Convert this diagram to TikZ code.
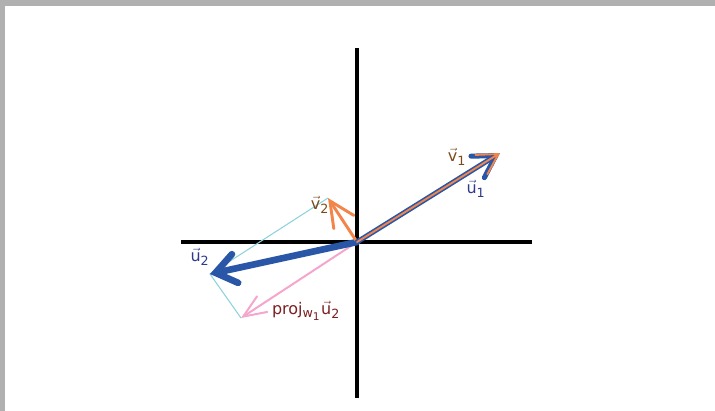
\documentclass[tikz,border=0pt]{standalone}
\usepackage{amsmath}
\usepackage{fontspec}
\setmainfont{DejaVu Sans}
\DeclareMathSizes{12}{12}{9.5}{8}
\usetikzlibrary{arrows.meta}
\definecolor{bordergray}{HTML}{B0B0B0}
\definecolor{ublue}{HTML}{2A56A8}
\definecolor{vorange}{HTML}{F2854A}
\definecolor{projpink}{HTML}{F5A6CC}
\definecolor{guidecyan}{HTML}{8DD3DC}
\definecolor{vlabel}{HTML}{7A4A1A}
\definecolor{ulabel}{HTML}{2E3A8C}
\definecolor{plabel}{HTML}{7A1F22}
\tikzset{
  axisline/.style={black, line width=2.3pt},
  guide/.style={guidecyan, line width=0.8pt},
  ubig/.style={ublue, line width=5pt, line cap=round,
    -{Straight Barb[length=15pt, width=22pt, line cap=round]}},
  uone/.style={ublue, line width=3.8pt, line cap=round,
    -{Straight Barb[length=16pt, width=19pt, line cap=round]}},
  vone/.style={vorange, line width=1.4pt, line cap=round,
    -{Straight Barb[length=15pt, width=17pt, line cap=round]}},
  vtwo/.style={vorange, line width=2.2pt, line cap=round,
    -{Straight Barb[length=19pt, width=18pt, line cap=round]}},
  projarrow/.style={projpink, line width=1.5pt, line cap=round,
    -{Straight Barb[length=17pt, width=14pt, line cap=round]}},
  lab/.style={font=\fontsize{12}{14}\selectfont, inner sep=0pt},
}
\newcommand{\vecl}[2]{$\vec{\text{#1}}_{\text{#2}}$}
\begin{document}
\begin{tikzpicture}[x=0.75pt,y=-0.75pt]
\useasboundingbox (0,0) rectangle (715,411);
\fill[bordergray] (0,0) rectangle (715,6);
\fill[bordergray] (0,0) rectangle (5,411);

\coordinate (O) at (357,242);
\coordinate (yT) at (357,48);
\coordinate (yB) at (357,398);
\coordinate (xL) at (181,242);
\coordinate (xR) at (532,242);
\coordinate (U1) at (500,153);
\coordinate (V2) at (328,198);
\coordinate (U2) at (210,274);
\coordinate (P) at (241,318);

\draw[axisline] (yT) -- (yB);
\draw[axisline] (xL) -- (xR);

\draw[guide] (V2) -- (U2) -- (P);

\draw[projarrow] (O) -- (P);
\draw[ubig] (O) -- (U2);
\draw[vtwo] (O) -- (V2);
\draw[uone] (O) -- (U1);
\draw[vone] (O) -- (U1);

\node[lab, text=vlabel] (lv1) at (457,157) {\vecl{v}{1}};
\node[lab, text=ulabel] (lu1) at (476,189) {\vecl{u}{1}};
\node[lab, text=vlabel] (lv2) at (320,205) {\vecl{v}{2}};
\node[lab, text=ulabel] (lu2) at (200,257) {\vecl{u}{2}};
\node[lab, text=plabel] (lp) at (306,311) {proj$_{\text{w}_{\text{1}}}\vec{\text{u}}_{\text{2}}$};
\end{tikzpicture}
\end{document}
